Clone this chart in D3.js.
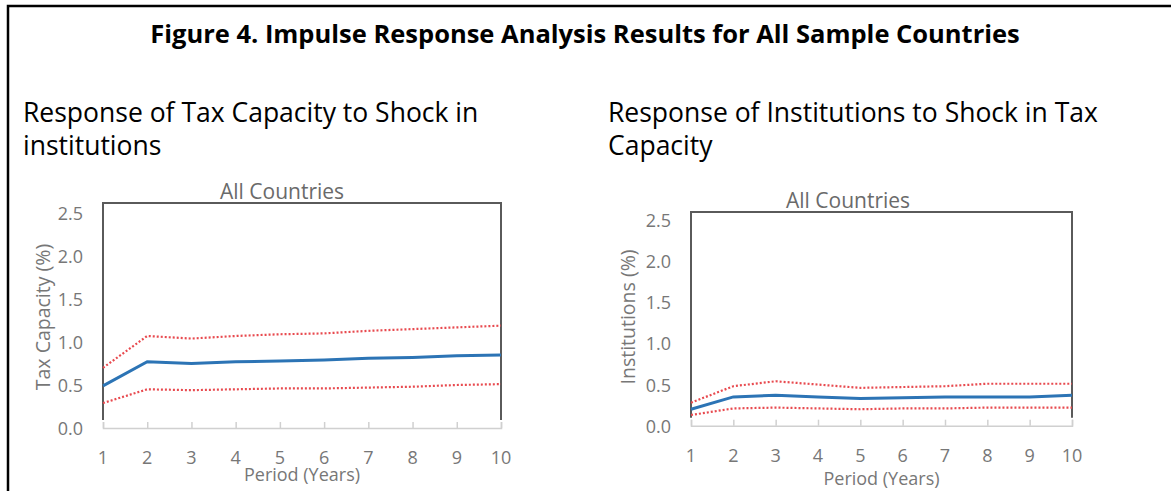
<!DOCTYPE html>
<html>
<head>
<meta charset="utf-8">
<script src="https://cdn.jsdelivr.net/npm/d3@7"></script>
<style>
  body { margin: 0; background: #fff; }
  svg { display: block; font-family: "Open Sans", "Noto Sans", sans-serif; }
</style>
</head>
<body>
<div id="chart"></div>
<script>
// periods on the x axis
var periods = [1, 2, 3, 4, 5, 6, 7, 8, 9, 10];
var yTicks = [0, 0.5, 1.0, 1.5, 2.0, 2.5];

// response of tax capacity to shock in institutions
var taxResp  = [0.49, 0.77, 0.75, 0.77, 0.78, 0.79, 0.81, 0.82, 0.84, 0.85];
var taxUpper = [0.70, 1.07, 1.04, 1.07, 1.09, 1.10, 1.13, 1.15, 1.17, 1.19];
var taxLower = [0.29, 0.45, 0.44, 0.45, 0.46, 0.46, 0.47, 0.48, 0.50, 0.51];

// response of institutions to shock in tax capacity
var instResp  = [0.20, 0.35, 0.37, 0.35, 0.33, 0.34, 0.35, 0.35, 0.35, 0.37];
var instUpper = [0.28, 0.48, 0.54, 0.50, 0.46, 0.47, 0.48, 0.51, 0.51, 0.51];
var instLower = [0.13, 0.21, 0.22, 0.21, 0.20, 0.21, 0.21, 0.22, 0.22, 0.22];

var width = 1171, height = 491;

var svg = d3.select("#chart").append("svg")
    .attr("width", width)
    .attr("height", height);

// outer box (top + left only, rest is cropped)
svg.append("path")
    .attr("d", "M8," + height + "V6H" + width)
    .attr("fill", "none")
    .attr("stroke", "#000")
    .attr("stroke-width", 2.5);

svg.append("text")
    .attr("x", 585).attr("y", 33)
    .attr("text-anchor", "middle")
    .attr("dominant-baseline", "central")
    .attr("font-size", 25.5).attr("font-weight", "bold")
    .attr("fill", "#000")
    .text("Figure 4. Impulse Response Analysis Results for All Sample Countries");

function drawPanel(p) {
    var g = svg.append("g");

    // subtitle, two lines
    p.subtitle.forEach(function(line, i) {
        g.append("text")
            .attr("x", p.subX).attr("y", 112 + i * 33)
            .attr("dominant-baseline", "central")
            .attr("font-size", 26.5)
            .attr("fill", "#000")
            .text(line);
    });

    var x = d3.scaleLinear().domain([1, 10]).range([p.left, p.right]);
    var y = d3.scaleLinear().domain([0, 2.5]).range([p.bottom, p.y25]);

    var frameTop = y(2.5) - p.topGap;
    var sideEnd = y(0) - 8;

    // x axis line with small upward ticks
    var xAxis = d3.axisBottom(x).tickValues(periods).tickSize(-6).tickFormat("");
    var ax = g.append("g").attr("transform", "translate(0," + y(0) + ")").call(xAxis);
    ax.select(".domain").attr("stroke", "#d0d0d0").attr("stroke-width", 1.5);
    ax.selectAll(".tick line").attr("stroke", "#d0d0d0").attr("stroke-width", 1.5);

    // frame
    g.append("path")
        .attr("d", "M" + x(1) + "," + sideEnd + "V" + frameTop + "H" + x(10) + "V" + sideEnd)
        .attr("fill", "none")
        .attr("stroke", "#5a5a5a")
        .attr("stroke-width", 2);

    // tick labels
    g.selectAll(".xl").data(periods).enter().append("text")
        .attr("x", function(d) { return x(d); })
        .attr("y", p.xLabY)
        .attr("text-anchor", "middle")
        .attr("dominant-baseline", "central")
        .attr("font-size", 18)
        .attr("fill", "#777")
        .text(function(d) { return d; });

    g.selectAll(".yl").data(yTicks).enter().append("text")
        .attr("x", x(1) - 20)
        .attr("y", function(d) { return y(d); })
        .attr("text-anchor", "end")
        .attr("dominant-baseline", "central")
        .attr("font-size", 18)
        .attr("fill", "#777")
        .text(function(d) { return d3.format(".1f")(d); });

    g.append("text")
        .attr("x", p.panelTitleX).attr("y", frameTop - 12)
        .attr("text-anchor", "middle")
        .attr("dominant-baseline", "central")
        .attr("font-size", 21)
        .attr("fill", "#6a6a6a")
        .text("All Countries");

    g.append("text")
        .attr("x", (x(1) + x(10)) / 2).attr("y", p.xTitleY)
        .attr("text-anchor", "middle")
        .attr("dominant-baseline", "central")
        .attr("font-size", 18)
        .attr("fill", "#777")
        .text("Period (Years)");

    g.append("text")
        .attr("transform", "translate(" + p.yTitleX + ",317) rotate(-90)")
        .attr("text-anchor", "middle")
        .attr("dominant-baseline", "central")
        .attr("font-size", 19.5)
        .attr("fill", "#777")
        .text(p.yTitle);

    var line = d3.line()
        .x(function(d, i) { return x(periods[i]); })
        .y(function(d) { return y(d); });

    [p.upper, p.lower].forEach(function(s) {
        g.append("path")
            .attr("d", line(s))
            .attr("fill", "none")
            .attr("stroke", "#e84a4f")
            .attr("stroke-width", 2.2)
            .attr("stroke-dasharray", "2,2");
    });

    g.append("path")
        .attr("d", line(p.resp))
        .attr("fill", "none")
        .attr("stroke", "#2c74b5")
        .attr("stroke-width", 3);
}

drawPanel({
    subtitle: ["Response of Tax Capacity to Shock in", "institutions"],
    subX: 23,
    left: 103, right: 501, bottom: 428, y25: 213, topGap: 10,
    xLabY: 457, xTitleY: 474, yTitleX: 42, panelTitleX: 282,
    yTitle: "Tax Capacity (%)",
    resp: taxResp, upper: taxUpper, lower: taxLower
});

drawPanel({
    subtitle: ["Response of Institutions to Shock in Tax", "Capacity"],
    subX: 608,
    left: 691, right: 1072, bottom: 425.7, y25: 220, topGap: 8,
    xLabY: 455, xTitleY: 478, yTitleX: 627, panelTitleX: 848,
    yTitle: "Institutions (%)",
    resp: instResp, upper: instUpper, lower: instLower
});
</script>
</body>
</html>
